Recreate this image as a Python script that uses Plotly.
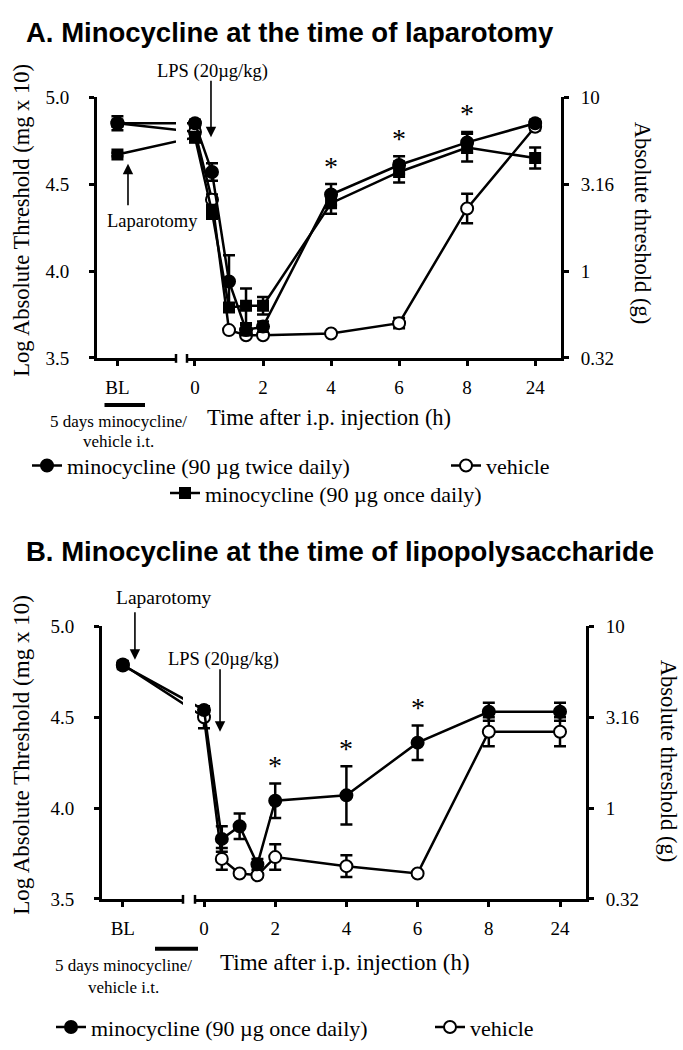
import plotly.graph_objects as go

W, H = 683, 1050

# ---------------- data ----------------
times = ['BL', 0, 0.5, 1, 1.5, 2, 4, 6, 8, 24]
x_tick_times = [0, 2, 4, 6, 8, 24]
x_tick_labels = ['0', '2', '4', '6', '8', '24']
y_tick_vals = [3.5, 4.0, 4.5, 5.0]
y_tick_labels = ['3.5', '4.0', '4.5', '5.0']
right_tick_labels = ['0.32', '1', '3.16', '10']

# Panel A
a_twice = [4.85, 4.85, 4.57, 3.94, 3.66, 3.68, 4.44, 4.61, 4.74, 4.85]
a_twice_err = [0.04, 0.02, 0.05, 0.15, 0.03, 0.03, 0.06, 0.05, 0.06, 0.02]
a_once = [4.67, 4.77, 4.34, 3.79, 3.80, 3.80, 4.39, 4.57, 4.71, 4.65]
a_once_err = [0.01, 0.03, 0.04, 0.02, 0.10, 0.05, 0.06, 0.06, 0.08, 0.06]
a_veh = [4.85, 4.80, 4.41, 3.66, 3.63, 3.63, 3.64, 3.70, 4.36, 4.83]
a_veh_err = [0.02, 0.02, 0.03, 0.01, 0.01, 0.01, 0.01, 0.03, 0.085, 0.02]
a_sig_times = [4, 6, 8]

# Panel B
b_once = [4.785, 4.54, 3.83, 3.90, 3.69, 4.04, 4.07, 4.36, 4.53, 4.53]
b_once_err = [0.02, 0.02, 0.07, 0.07, 0.03, 0.095, 0.16, 0.095, 0.05, 0.05]
b_veh = [4.79, 4.50, 3.72, 3.64, 3.63, 3.73, 3.68, 3.64, 4.42, 4.42]
b_veh_err = [0.02, 0.06, 0.06, 0.01, 0.01, 0.07, 0.06, 0.01, 0.08, 0.08]
b_sig_times = [2, 4, 6]

# ------------- broken-axis scale -------------
BL_POS = -2.28


def xpos(t):
    if t == 'BL':
        return BL_POS
    if t == 24:
        return 10
    return t


def px(x):
    return x / W


def py(y):
    return 1 - y / H


SERIF = 'Liberation Serif, Times New Roman, serif'
SANS = 'Liberation Sans, Arial, sans-serif'
BLACK = 'black'

fig = go.Figure()

styles = {
    'filled': dict(symbol='circle', size=12, color=BLACK),
    'square': dict(symbol='square', size=10, color=BLACK),
    'open': dict(symbol='circle', size=12, color='white'),
}


def add_series(vals, errs, style, name, xl, xr, yax, legend):
    xs = [xpos(t) for t in times]
    for xa, show in ((xl, False), (xr, True)):
        fig.add_trace(go.Scatter(
            x=xs, y=vals, mode='lines+markers', name=name,
            line=dict(color=BLACK, width=2.5),
            marker=dict(symbol=styles[style]['symbol'], size=styles[style]['size'],
                        color=styles[style]['color'], line=dict(color=BLACK, width=2)),
            error_y=dict(type='data', array=errs, visible=True, color=BLACK,
                         thickness=2.5, width=6),
            xaxis=xa, yaxis=yax, showlegend=show, legend=legend, hoverinfo='x+y',
        ))


def anchor_trace(xa, ya, vals):
    # invisible trace so that the right-hand (secondary) y axis is drawn
    fig.add_trace(go.Scatter(x=[xpos(times[-1])], y=[vals[-1]], mode='markers',
                             marker=dict(opacity=0), xaxis=xa, yaxis=ya,
                             showlegend=False, hoverinfo='skip'))


# Panel A traces
add_series(a_veh, a_veh_err, 'open', 'vehicle', 'x', 'x2', 'y', 'legend2')
add_series(a_once, a_once_err, 'square', 'minocycline (90 µg once daily)', 'x', 'x2', 'y', 'legend3')
add_series(a_twice, a_twice_err, 'filled', 'minocycline (90 µg twice daily)', 'x', 'x2', 'y', 'legend')
anchor_trace('x2', 'y2', a_veh)
# Panel B traces
add_series(b_veh, b_veh_err, 'open', 'vehicle', 'x3', 'x4', 'y3', 'legend5')
add_series(b_once, b_once_err, 'filled', 'minocycline (90 µg once daily)', 'x3', 'x4', 'y3', 'legend4')
anchor_trace('x4', 'y4', b_veh)

tickfont = dict(family=SERIF, size=19, color=BLACK)


def xaxis_cfg(dom, rng, anchor, tv, tt):
    return dict(domain=[px(dom[0]), px(dom[1])], range=rng, anchor=anchor,
                showline=True, linewidth=3, linecolor=BLACK, ticks='outside',
                ticklen=5, tickwidth=2.5, tickcolor=BLACK, tickvals=tv, ticktext=tt,
                tickfont=tickfont, showgrid=False, zeroline=False, ticklabelstandoff=5,
                fixedrange=True)


def yaxis_cfg(dom, anchor, tt, side='left', overlaying=None):
    d = dict(domain=[py(dom[1]), py(dom[0])], range=[3.5, 5.0], anchor=anchor, side=side,
             showline=True, linewidth=3, linecolor=BLACK, ticks='outside', ticklen=5,
             tickwidth=2.5, tickcolor=BLACK, tickvals=y_tick_vals, ticktext=tt,
             tickfont=tickfont, showgrid=False, zeroline=False,
             ticklabelstandoff=16 if side == 'left' else 8, fixedrange=True)
    if overlaying:
        d['overlaying'] = overlaying
    return d


right_ticks_pos = [xpos(t) for t in x_tick_times]

fig.update_layout(
    width=W, height=H, margin=dict(l=0, r=0, t=0, b=0),
    paper_bgcolor='white', plot_bgcolor='white',
    xaxis=xaxis_cfg((97, 176), [-2.88, -0.56], 'y', [BL_POS], ['BL']),
    xaxis2=xaxis_cfg((187, 561), [-0.235, 10.76], 'y', right_ticks_pos, x_tick_labels),
    yaxis=yaxis_cfg((89, 355), 'x', y_tick_labels),
    yaxis2=yaxis_cfg((89, 355), 'x2', right_tick_labels, side='right', overlaying='y'),
    xaxis3=xaxis_cfg((102, 183), [-2.865, -0.59], 'y3', [BL_POS], ['BL']),
    xaxis4=xaxis_cfg((195, 586), [-0.253, 10.73], 'y3', right_ticks_pos, x_tick_labels),
    yaxis3=yaxis_cfg((629, 907), 'x3', y_tick_labels),
    yaxis4=yaxis_cfg((629, 907), 'x4', right_tick_labels, side='right', overlaying='y3'),
)

legfont = dict(family=SERIF, size=22, color=BLACK)


def leg(x, y):
    return dict(x=px(x), y=py(y), xanchor='left', yanchor='middle', font=legfont,
                bgcolor='rgba(0,0,0,0)', itemwidth=30, borderwidth=0)


fig.update_layout(
    legend=leg(27, 465), legend2=leg(446, 465), legend3=leg(165, 493),
    legend4=leg(51, 1038), legend5=leg(430, 1038),
)

ann = []


def text(x, y, s, size, family=SERIF, angle=0, anchor='center'):
    ann.append(dict(x=px(x), y=py(y), xref='paper', yref='paper', text=s, showarrow=False,
                    font=dict(family=family, size=size, color=BLACK), textangle=angle,
                    xanchor=anchor, yanchor='middle'))


# titles
text(24, 23, '<b>A. Minocycline at the time of laparotomy</b>', 27.5, SANS, anchor='left')
text(24, 553, '<b>B. Minocycline at the time of lipopolysaccharide</b>', 27.5, SANS, anchor='left')
# axis titles
text(22, 215, 'Log Absolute Threshold (mg x 10)', 22.5, angle=-90)
text(642, 217, 'Absolute threshold (g)', 22.5, angle=90)
text(329, 416, 'Time after i.p. injection (h)', 22.5)
text(22, 760, 'Log Absolute Threshold (mg x 10)', 23, angle=-90)
text(668, 766, 'Absolute threshold (g)', 22.5, angle=90)
text(345, 972, 'Time after i.p. injection (h)', 23)
# treatment notes
text(118, 420, '5 days minocycline/', 17)
text(118, 440, 'vehicle i.t.', 17)
text(123, 975, '5 days minocycline/', 17)
text(123, 997, 'vehicle i.t.', 17)
# arrow labels
text(212, 63, 'LPS (20µg/kg)', 18.5)
text(152, 215, 'Laparotomy', 18.5)
text(164, 599, 'Laparotomy', 19.5)
text(223, 663, 'LPS (20µg/kg)', 18.5)


def arrow(xa, ya, x, y, ay):
    ann.append(dict(x=x, y=y, xref=xa, yref=ya, text='', showarrow=True, ax=0, ay=ay,
                    arrowhead=2, arrowsize=1.3, arrowwidth=1.6, arrowcolor=BLACK,
                    standoff=0, startstandoff=0))


arrow('x2', 'y', 0.47, 4.77, -58)
arrow('x', 'y', -1.97, 4.617, 43)
arrow('x3', 'y3', -1.94, 4.817, -49)
arrow('x4', 'y3', 0.45, 4.42, -64)


def stars(xa, ya, sig, vals, errs):
    for t in sig:
        i = times.index(t)
        ann.append(dict(x=xpos(t), y=vals[i] + errs[i], xref=xa, yref=ya, text='*',
                        showarrow=False, yanchor='middle', yshift=18,
                        font=dict(family=SERIF, size=28, color=BLACK)))


stars('x2', 'y', a_sig_times, a_twice, a_twice_err)
stars('x4', 'y3', b_sig_times, b_once, b_once_err)

fig.update_layout(annotations=ann)

shapes = []
# treatment bars
for x0, x1, y in ((104.5, 145, 403), (155, 198, 958)):
    shapes.append(dict(type='line', xref='paper', yref='paper', x0=px(x0), x1=px(x1),
                       y0=py(y), y1=py(y), line=dict(color=BLACK, width=4)))
# axis break marks
for x, y in ((176, 355), (187, 355), (183, 907), (195, 907)):
    shapes.append(dict(type='line', xref='paper', yref='paper', x0=px(x), x1=px(x),
                       y0=py(y - 4), y1=py(y + 5), line=dict(color=BLACK, width=2.5)))
fig.update_layout(shapes=shapes)

fig.write_html('out.html', config={'displayModeBar': False},
               post_script="document.body.style.margin='0px';document.body.style.overflow='hidden';")
